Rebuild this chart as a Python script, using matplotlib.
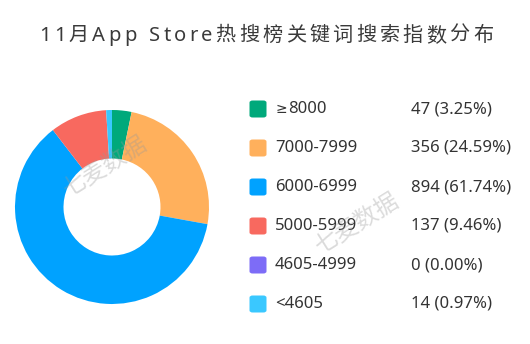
import matplotlib
matplotlib.use('Agg')
import matplotlib.pyplot as plt
from matplotlib.patches import FancyBboxPatch

plt.rcParams['font.family'] = ['Noto Sans', 'Noto Sans CJK SC', 'DejaVu Sans']

title = '11月App Store热搜榜关键词搜索指数分布'
labels = ['≥8000', '7000-7999', '6000-6999', '5000-5999', '4605-4999', '<4605']
counts = [47, 356, 894, 137, 0, 14]
shares = ['3.25%', '24.59%', '61.74%', '9.46%', '0.00%', '0.97%']
colors = ['#00a97b', '#ffb05c', '#00a2ff', '#f8695f', '#7d6cf7', '#3ac8ff']

W, H = 530, 344
fig = plt.figure(figsize=(W / 100, H / 100), dpi=100)
fig.patch.set_facecolor('white')

def fx(px):
    return px / W

def fy(py):
    return 1 - py / H

# donut
cx, cy, r = 112, 207, 97
ax = fig.add_axes([fx(cx - r), fy(cy + r), 2 * r / W, 2 * r / H])
ax.pie(counts, colors=colors, startangle=90, counterclock=False,
       wedgeprops=dict(width=0.5, linewidth=0))
ax.set_xlim(-1, 1)
ax.set_ylim(-1, 1)
ax.set_aspect('equal')
ax.axis('off')

# title with letter spacing
fig.canvas.draw()
renderer = fig.canvas.get_renderer()
tsize = 14.5
widths = []
for ch in title:
    t = fig.text(0, 0, ch if ch != ' ' else 'a', fontsize=tsize)
    bb = t.get_window_extent(renderer)
    widths.append(bb.width if ch != ' ' else bb.width * 0.5)
    t.remove()
x0, x1 = 39, 493
gap = (x1 - x0 - sum(widths)) / (len(title) - 1)
x = x0
for ch, w in zip(title, widths):
    if ch != ' ':
        fig.text(fx(x), fy(36), ch, fontsize=tsize, color='#3a3a3a',
                 va='center', ha='left')
    x += w + gap

# legend
rows = [109, 148, 187, 226, 265, 304]
sq = 17
for lab, n, s, c, y in zip(labels, counts, shares, colors, rows):
    box = FancyBboxPatch((fx(258 - sq / 2), fy(y + sq / 2)), sq / W, sq / H,
                         boxstyle='round,pad=0,rounding_size=0.006',
                         transform=fig.transFigure, facecolor=c,
                         edgecolor='none')
    fig.patches.append(box)
    if lab.startswith('≥'):
        # the sign from DejaVu, the digits in the usual face
        fig.text(fx(276), fy(y), lab[0], fontsize=10, color='#333333',
                 va='center', family=['DejaVu Sans'])
        fig.text(fx(288), fy(y), lab[1:], fontsize=12, color='#333333',
                 va='center')
    else:
        fig.text(fx(275), fy(y), lab, fontsize=12, color='#333333',
                 va='center')
    fig.text(fx(411), fy(y), '%d (%s)' % (n, s), fontsize=12,
             color='#333333', va='center')

# watermarks
for wx, wy in [(105, 167), (357, 224)]:
    fig.text(fx(wx), fy(wy), '七麦数据', fontsize=17, color='#999999',
             alpha=0.35, rotation=32, ha='center', va='center',
             family='Noto Sans CJK SC')

fig.savefig('out.png', dpi=100)
